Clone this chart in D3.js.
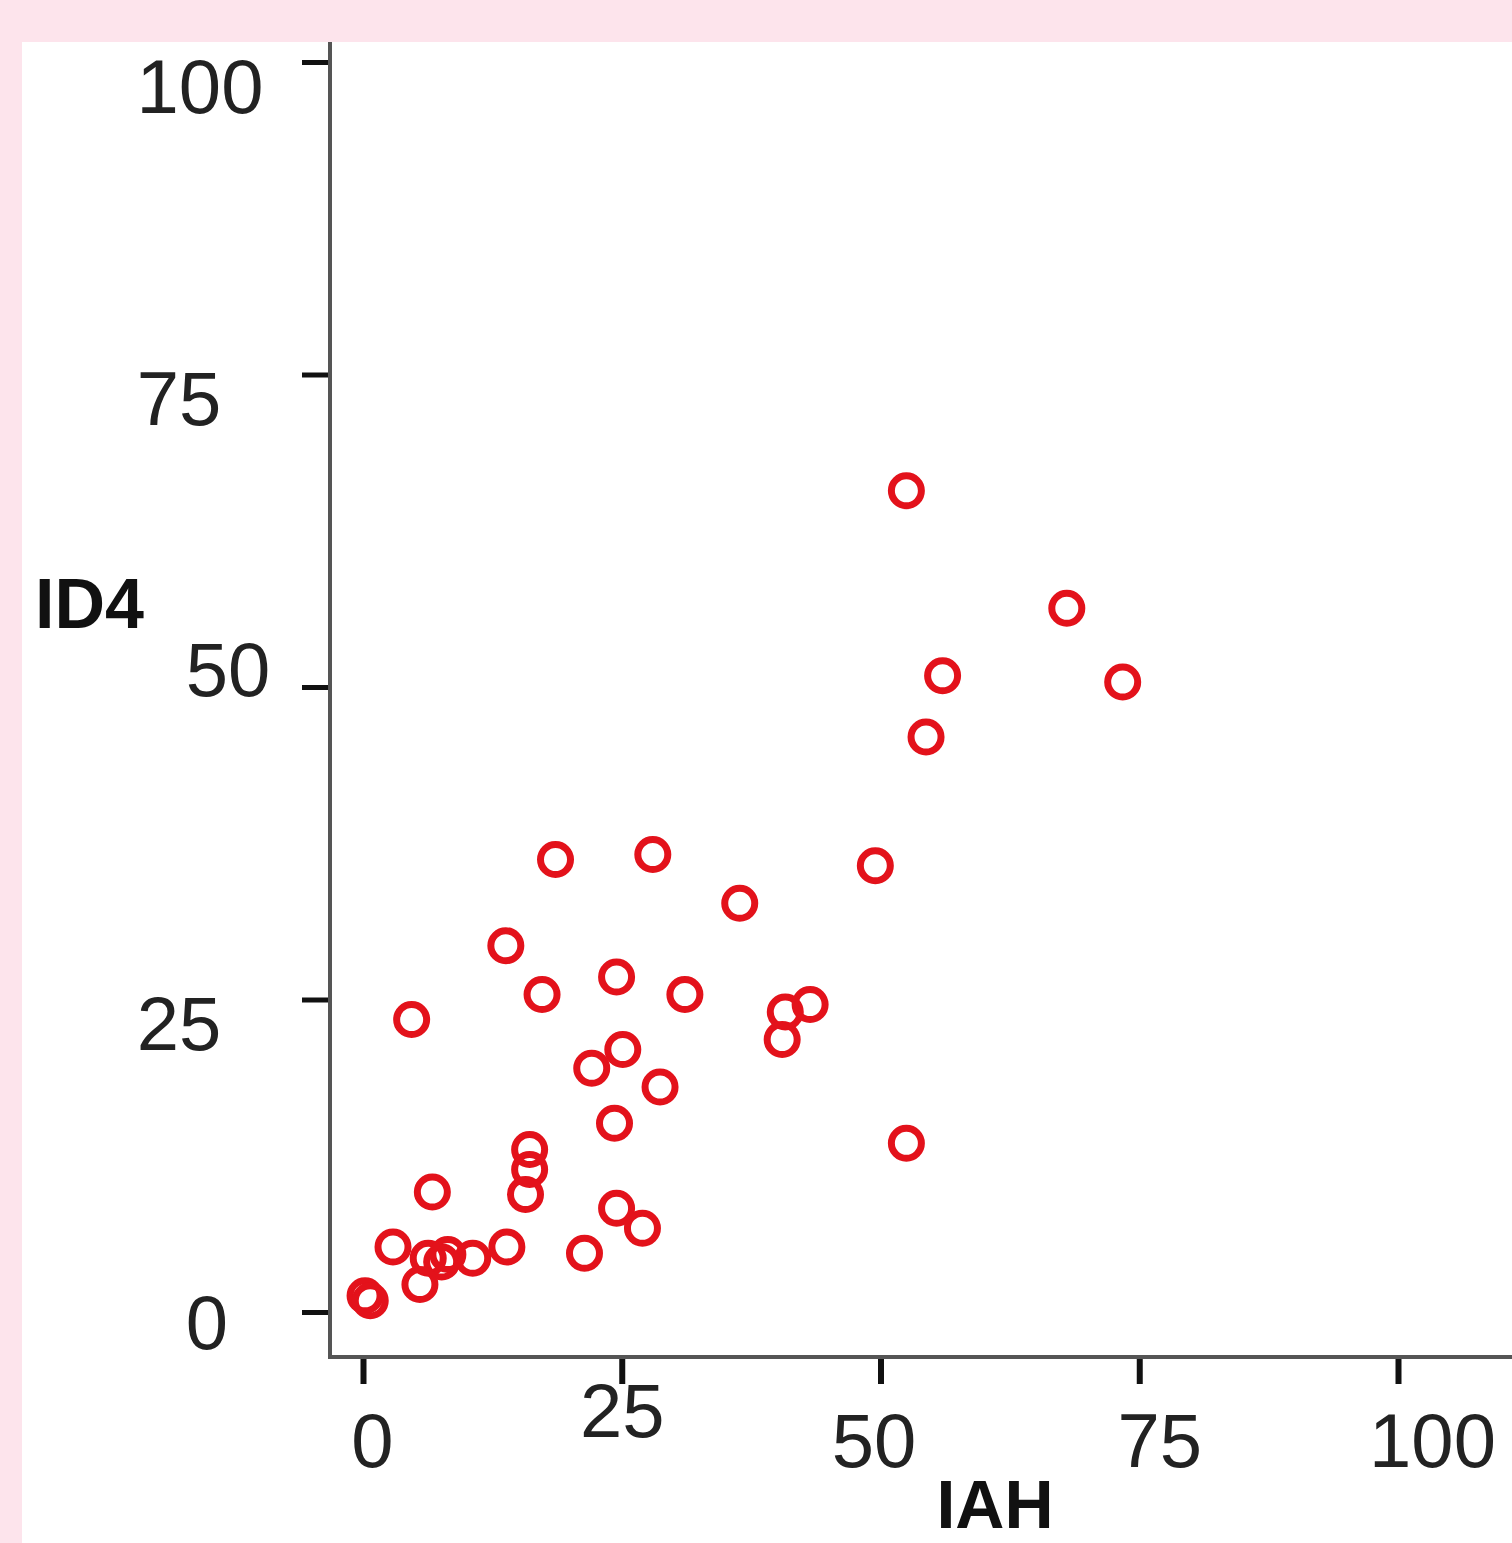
<!DOCTYPE html>
<html>
<head>
<meta charset="utf-8">
<script src="https://cdn.jsdelivr.net/npm/d3@7"></script>
<style>
  html, body { margin: 0; padding: 0; background: #fde4ec; }
  svg { display: block; }
</style>
</head>
<body>
<div id="chart"></div>
<script>
// scatter: ID4 vs IAH
const iah = [52.5, 68.0, 56.0, 73.4, 54.4, 18.6, 28.0, 49.5, 36.4, 13.8,
             24.5, 17.3, 31.1, 4.7, 40.8, 43.2, 40.5, 25.1, 22.1, 28.7,
             24.3, 52.5, 16.1, 16.1, 15.7, 6.7, 24.5, 27.0, 2.9, 13.9,
             21.4, 10.6, 6.3, 7.6, 8.2, 5.5, 0.2, 0.7];
const id4 = [65.7, 56.3, 50.9, 50.4, 46.0, 36.2, 36.6, 35.7, 32.7, 29.3,
             26.8, 25.4, 25.4, 23.4, 24.0, 24.6, 21.8, 21.0, 19.5, 18.0,
             15.1, 13.5, 13.0, 11.4, 9.4, 9.6, 8.3, 6.7, 5.2, 5.2,
             4.7, 4.3, 4.3, 4.0, 4.6, 2.2, 1.3, 0.9];
const ticks = [0, 25, 50, 75, 100];
const xTitle = "IAH";
const yTitle = "ID4";

const W = 1512, H = 1543;
const svg = d3.select("#chart").append("svg")
    .attr("width", W)
    .attr("height", H);

// white panel on pink page
svg.append("rect")
    .attr("x", 22).attr("y", 42)
    .attr("width", W - 22).attr("height", H - 42)
    .attr("fill", "#ffffff");

const x = d3.scaleLinear().domain([0, 100]).range([363, 1398]);
const y = d3.scaleLinear().domain([0, 100]).range([1312, 62]);

const axisX = 330, axisY = 1357;

// tick labels in the source sit a little off their ticks
const yNudge = {0: [-123, 36], 25: [-151, 50], 50: [-102, 8], 75: [-151, 50], 100: [-130, 50]};
const xNudge = {0: [9, 0], 25: [0, -30], 50: [-7, 0], 75: [20, 0], 100: [34, 0]};

const gy = svg.append("g")
    .attr("transform", `translate(${axisX},0)`)
    .call(d3.axisLeft(y).tickValues(ticks).tickSize(28).tickSizeOuter(0).tickPadding(0));
gy.select(".domain").remove();
gy.selectAll(".tick line").attr("stroke", "#111").attr("stroke-width", 5);
gy.selectAll(".tick text")
    .attr("font-family", "Liberation Sans, Arial, sans-serif")
    .attr("font-size", 76)
    .attr("fill", "#222")
    .attr("text-anchor", "middle")
    .attr("x", d => yNudge[d][0])
    .attr("dy", null)
    .attr("y", d => yNudge[d][1]);

const gx = svg.append("g")
    .attr("transform", `translate(0,${axisY})`)
    .call(d3.axisBottom(x).tickValues(ticks).tickSize(27).tickSizeOuter(0).tickPadding(0));
gx.select(".domain").remove();
gx.selectAll(".tick line").attr("stroke", "#111").attr("stroke-width", 6);
gx.selectAll(".tick text")
    .attr("font-family", "Liberation Sans, Arial, sans-serif")
    .attr("font-size", 76)
    .attr("fill", "#222")
    .attr("text-anchor", "middle")
    .attr("dy", null)
    .attr("x", d => xNudge[d][0])
    .attr("y", d => 110 + xNudge[d][1]);

// axis lines
svg.append("line")
    .attr("x1", axisX).attr("x2", axisX)
    .attr("y1", 42).attr("y2", axisY + 2)
    .attr("stroke", "#555").attr("stroke-width", 4);
svg.append("line")
    .attr("x1", axisX - 2).attr("x2", W)
    .attr("y1", axisY).attr("y2", axisY)
    .attr("stroke", "#555").attr("stroke-width", 4);

// points
svg.append("g")
    .selectAll("circle")
    .data(iah.map((v, i) => [v, id4[i]]))
    .enter()
    .append("circle")
    .attr("cx", d => x(d[0]))
    .attr("cy", d => y(d[1]))
    .attr("r", 15)
    .attr("fill", "none")
    .attr("stroke", "#e3121b")
    .attr("stroke-width", 7);

// titles
svg.append("text")
    .attr("x", 35).attr("y", 628)
    .attr("font-family", "Liberation Sans, Arial, sans-serif")
    .attr("font-weight", "bold")
    .attr("font-size", 70)
    .attr("fill", "#111")
    .text(yTitle);

svg.append("text")
    .attr("x", 995).attr("y", 1528)
    .attr("text-anchor", "middle")
    .attr("font-family", "Liberation Sans, Arial, sans-serif")
    .attr("font-weight", "bold")
    .attr("font-size", 68)
    .attr("fill", "#111")
    .text(xTitle);
</script>
</body>
</html>
